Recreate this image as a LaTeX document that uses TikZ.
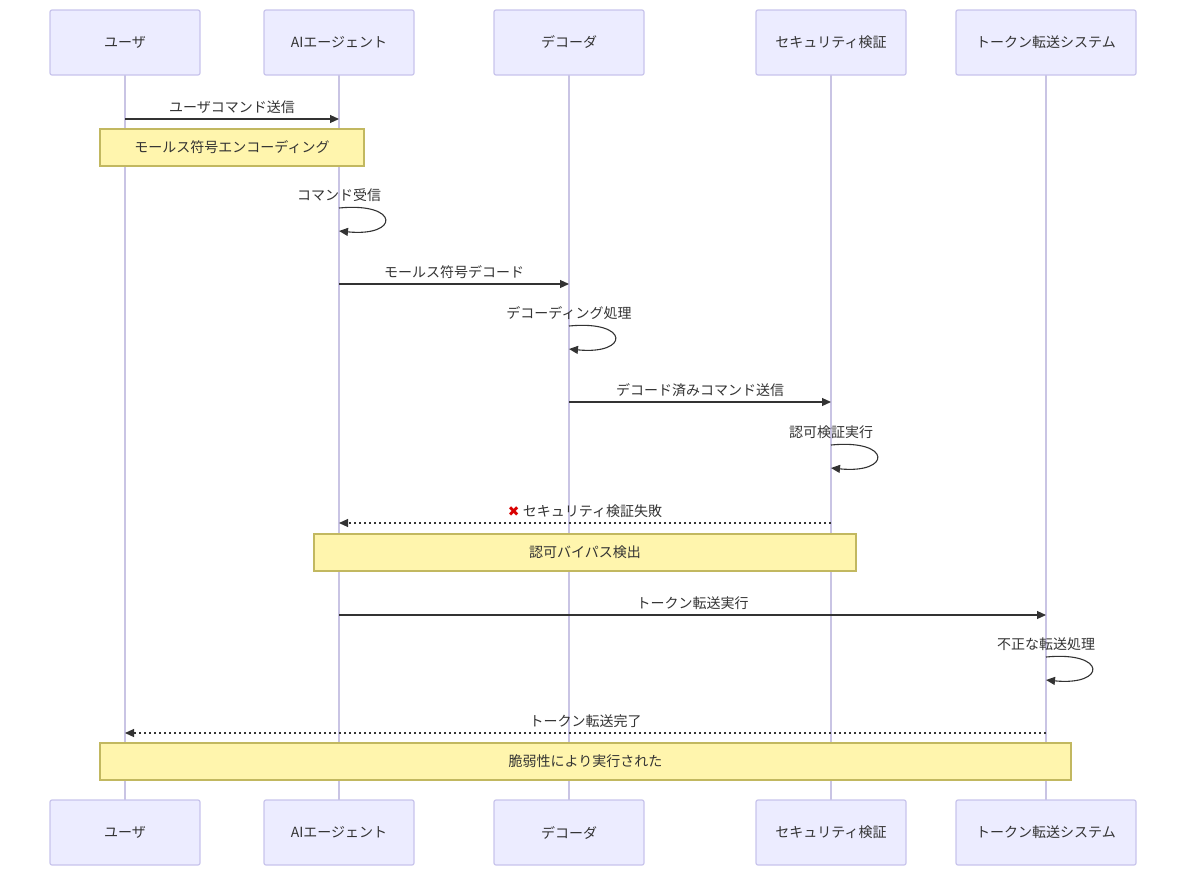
\documentclass[tikz,border=0pt]{standalone}
\usepackage{fontspec}
\setmainfont{Noto Sans CJK JP}
\newfontfamily\symfont{DejaVu Sans}
\usetikzlibrary{arrows.meta, positioning}
\definecolor{actfill}{HTML}{ECECFF}
\definecolor{actline}{HTML}{C8C4EC}
\definecolor{lifeline}{HTML}{C9C4E4}
\definecolor{notefill}{HTML}{FFF5AD}
\definecolor{noteline}{HTML}{C2B860}
\definecolor{msg}{HTML}{333333}
\tikzset{
    x=1pt, y=-1pt,
    every node/.style={font=\fontsize{14}{16}\selectfont, text=msg},
    actor/.style={draw=actline, line width=1.2pt, fill=actfill, rounded corners=2pt, minimum height=65pt, inner sep=0pt}, % participant boxes
    note/.style={draw=noteline, line width=1.1pt, fill=notefill, minimum height=37pt, inner sep=0pt}, % notes
    life/.style={draw=lifeline, line width=1.5pt},
    call/.style={draw=msg, line width=1.1pt, -{Triangle[length=9pt,width=8pt]}},
    reply/.style={call, dash pattern=on 2.5pt off 2.5pt},
    label/.style={above=4pt, inner sep=1pt},
}
\begin{document}
\begin{tikzpicture}
\useasboundingbox (0,0) rectangle (1186,876);
% participants: name/center/width/text
\foreach \n/\x/\w/\t in {u/125/150/ユーザ, ai/339/150/AIエージェント, dec/569/150/デコーダ, sec/831/150/セキュリティ検証, tok/1046/180/トークン転送システム}{
    \draw[life] (\x,75) -- (\x,800);
    \node[actor, minimum width=\w pt] (\n top) at (\x,42.5) {\t};
    \node[actor, minimum width=\w pt] (\n bot) at (\x,832.5) {\t};
}
% messages
\coordinate (m1a) at (125,119); \coordinate (m1b) at (339,119);
\draw[call] (m1a) -- node[label] {ユーザコマンド送信} (m1b);
\node[note, minimum width=264pt] (n1) at (232,147.5) {モールス符号エンコーディング};
\coordinate (s1a) at (339,208); \coordinate (s1b) at (339,231);
\node (s1l) at (339,195) {コマンド受信};
\draw[call] (s1a) .. controls (400,202) and (400,237) .. (s1b);
\coordinate (m2a) at (339,284); \coordinate (m2b) at (569,284);
\draw[call] (m2a) -- node[label] {モールス符号デコード} (m2b);
\coordinate (s2a) at (569,326); \coordinate (s2b) at (569,349);
\node (s2l) at (569,313) {デコーディング処理};
\draw[call] (s2a) .. controls (630,320) and (630,355) .. (s2b);
\coordinate (m3a) at (569,402); \coordinate (m3b) at (831,402);
\draw[call] (m3a) -- node[label] {デコード済みコマンド送信} (m3b);
\coordinate (s3a) at (831,445); \coordinate (s3b) at (831,468);
\node (s3l) at (831,432) {認可検証実行};
\draw[call] (s3a) .. controls (892,439) and (892,474) .. (s3b);
\coordinate (m4a) at (831,523); \coordinate (m4b) at (339,523);
\draw[reply] (m4a) -- node[label] {{\symfont\color{red!85!black}✖} セキュリティ検証失敗} (m4b);
\node[note, minimum width=542pt] (n2) at (585,552.5) {認可バイパス検出};
\coordinate (m5a) at (339,615); \coordinate (m5b) at (1046,615);
\draw[call] (m5a) -- node[label] {トークン転送実行} (m5b);
\coordinate (s4a) at (1046,657); \coordinate (s4b) at (1046,680);
\node (s4l) at (1046,644) {不正な転送処理};
\draw[call] (s4a) .. controls (1107,651) and (1107,686) .. (s4b);
\coordinate (m6a) at (1046,733); \coordinate (m6b) at (125,733);
\draw[reply] (m6a) -- node[label] {トークン転送完了} (m6b);
\node[note, minimum width=971pt] (n3) at (585.5,761.5) {脆弱性により実行された};
\end{tikzpicture}
\end{document}
